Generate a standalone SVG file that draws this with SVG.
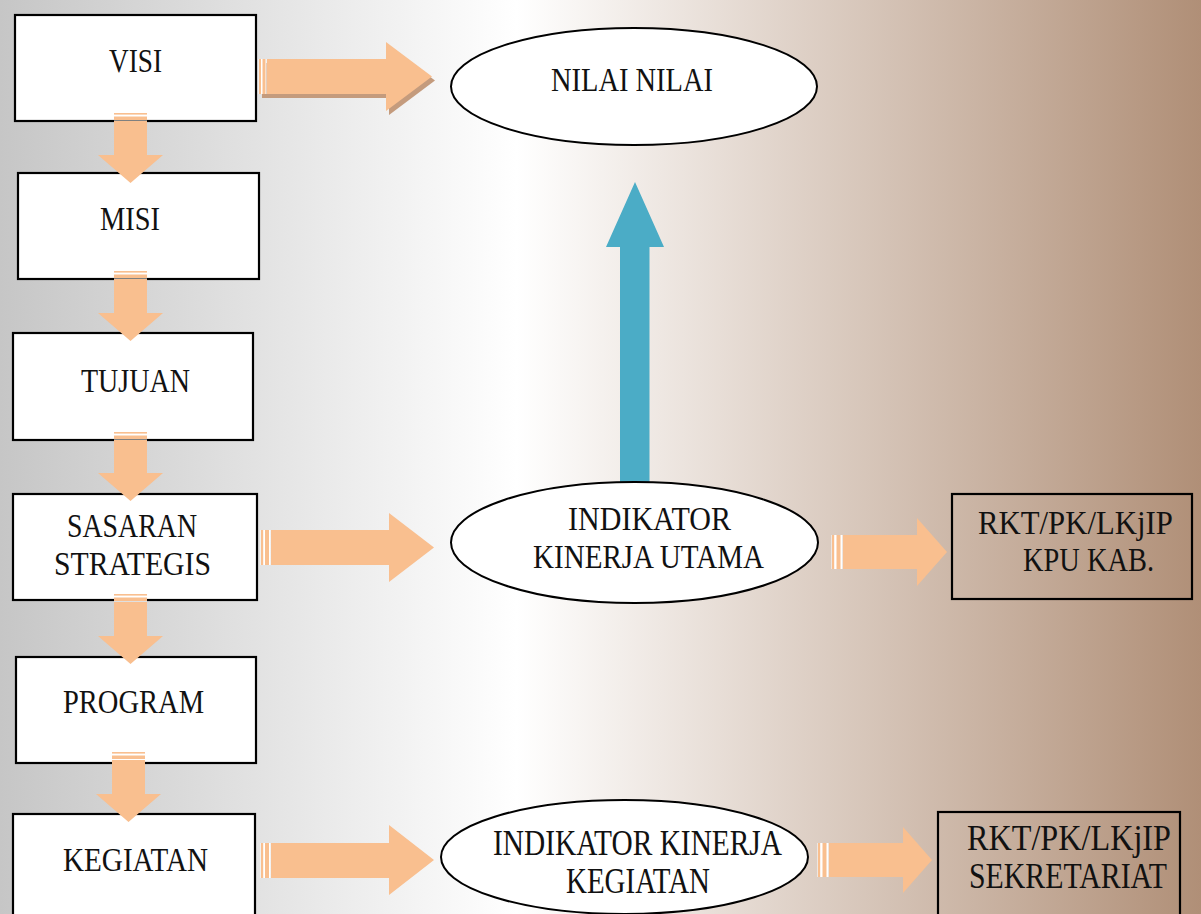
<svg xmlns="http://www.w3.org/2000/svg" width="1201" height="914" viewBox="0 0 1201 914">
<defs>
<linearGradient id="bg" x1="0" y1="0" x2="1201" y2="0" gradientUnits="userSpaceOnUse">
<stop offset="0" stop-color="#c6c6c6"/>
<stop offset="0.43" stop-color="#ffffff"/>
<stop offset="1" stop-color="#b08f77"/>
</linearGradient>
<style>
.box{fill:#ffffff;stroke:#000000;stroke-width:2.2}
.obox{fill:none;stroke:#000000;stroke-width:2.2}
.ell{fill:#ffffff;stroke:#000000;stroke-width:2}
.t{font-family:"Liberation Serif","Times New Roman",serif;font-size:33px;fill:#111111}
.tb{font-family:"Liberation Serif","Times New Roman",serif;font-size:35px;fill:#111111}
.ar{fill:#f9bf8f}
.sh{fill:#c49b7d}
.wl{fill:#ffffff}
.blue{fill:#4bacc6}
</style>
</defs>
<rect x="0" y="0" width="1201" height="914" fill="url(#bg)"/>

<g id="node-visi"><rect class="box" x="15" y="15" width="241" height="106"/><text class="t" x="109" y="72" textLength="53" lengthAdjust="spacingAndGlyphs">VISI</text></g>
<g id="node-misi"><rect class="box" x="18" y="173" width="241" height="106"/><text class="t" x="100" y="230" textLength="60" lengthAdjust="spacingAndGlyphs">MISI</text></g>
<g id="node-tujuan"><rect class="box" x="13" y="333" width="240" height="107"/><text class="t" x="81" y="392" textLength="109" lengthAdjust="spacingAndGlyphs">TUJUAN</text></g>
<g id="node-sasaran"><rect class="box" x="13" y="494" width="244" height="106"/><text class="t" x="67" y="537" textLength="130" lengthAdjust="spacingAndGlyphs">SASARAN</text><text class="t" x="54" y="575" textLength="157" lengthAdjust="spacingAndGlyphs">STRATEGIS</text></g>
<g id="node-program"><rect class="box" x="16" y="657" width="240" height="106"/><text class="t" x="63" y="713" textLength="141" lengthAdjust="spacingAndGlyphs">PROGRAM</text></g>
<g id="node-kegiatan"><rect class="box" x="13" y="814" width="242" height="110"/><text class="t" x="63" y="871" textLength="145" lengthAdjust="spacingAndGlyphs">KEGIATAN</text></g>

<g id="connectors">
<!-- blue up arrow -->
<polygon class="blue" points="635,182 664,247 649.5,247 649.5,486 620,486 620,247 606,247"/>
<!-- down arrows -->
<g>
<rect class="wl" x="114" y="112.5" width="33" height="8"/>
<rect class="ar" x="114" y="113" width="33" height="1.6"/><rect class="ar" x="114" y="116.5" width="33" height="3.5"/>
<polygon class="ar" points="114,121 147,121 147,155 163,155 130.5,183 98,155 114,155"/>
</g>
<g>
<rect class="wl" x="114" y="270.5" width="33" height="8"/>
<rect class="ar" x="114" y="271" width="33" height="1.6"/><rect class="ar" x="114" y="274.5" width="33" height="3.5"/>
<polygon class="ar" points="114,279 147,279 147,313 163,313 130.5,341 98,313 114,313"/>
</g>
<g>
<rect class="wl" x="114" y="431.5" width="33" height="8"/>
<rect class="ar" x="114" y="432" width="33" height="1.6"/><rect class="ar" x="114" y="435.5" width="33" height="3.5"/>
<polygon class="ar" points="114,440 147,440 147,473 163,473 130.5,501 98,473 114,473"/>
</g>
<g>
<rect class="wl" x="114" y="593.5" width="33" height="8"/>
<rect class="ar" x="114" y="594" width="33" height="1.6"/><rect class="ar" x="114" y="597.5" width="33" height="3.5"/>
<polygon class="ar" points="114,602 147,602 147,636 163,636 130.5,664 98,636 114,636"/>
</g>
<g>
<rect class="wl" x="112" y="751.5" width="33" height="8"/>
<rect class="ar" x="112" y="752" width="33" height="1.6"/><rect class="ar" x="112" y="755.5" width="33" height="3.5"/>
<polygon class="ar" points="112,760 145,760 145,794 161,794 128.5,822 96,794 112,794"/>
</g>
<!-- VISI -> NILAI with shadow -->
<g>
<polygon class="sh" points="262,63 389,63 389,46 435,80.5 389,115 389,98 262,98"/>
<rect class="wl" x="258.5" y="59" width="8" height="35"/>
<rect class="ar" x="259" y="59" width="2" height="35"/><rect class="ar" x="262.5" y="59" width="3" height="35"/>
<polygon class="ar" points="267,59 386,59 386,42 432,76.5 386,111 386,94 267,94"/>
</g>
<!-- SASARAN -> IKU -->
<g>
<rect class="wl" x="260.5" y="530" width="10" height="35"/>
<rect class="ar" x="261" y="530" width="2.2" height="35"/><rect class="ar" x="265" y="530" width="4" height="35"/>
<polygon class="ar" points="271,530 389,530 389,513 434,547.5 389,582 389,565 271,565"/>
</g>
<!-- KEGIATAN -> IKK -->
<g>
<rect class="wl" x="260.5" y="843" width="10" height="35"/>
<rect class="ar" x="261" y="843" width="2.2" height="35"/><rect class="ar" x="265" y="843" width="4" height="35"/>
<polygon class="ar" points="271,843 389,843 389,825 434,860 389,895 389,878 271,878"/>
</g>
<!-- IKU -> RKT KPU -->
<g>
<rect class="wl" x="831.5" y="535" width="11" height="34"/>
<rect class="ar" x="832" y="535" width="2.2" height="34"/><rect class="ar" x="836.5" y="535" width="4" height="34"/>
<polygon class="ar" points="843,535 917,535 917,518 947,552 917,586 917,569 843,569"/>
</g>
<!-- IKK -> RKT SEKRETARIAT -->
<g>
<rect class="wl" x="817.5" y="843" width="11" height="34"/>
<rect class="ar" x="818" y="843" width="2.2" height="34"/><rect class="ar" x="822.5" y="843" width="4" height="34"/>
<polygon class="ar" points="829,843 903,843 903,827 932,860 903,893 903,877 829,877"/>
</g>
</g>

<g id="node-nilai"><ellipse class="ell" cx="634" cy="86.5" rx="183" ry="58.5"/><text class="t" x="551" y="91" textLength="162" lengthAdjust="spacingAndGlyphs">NILAI NILAI</text></g>
<g id="node-iku"><ellipse class="ell" cx="634.5" cy="542.5" rx="183.5" ry="60.5"/><text class="t" x="568" y="530" textLength="163" lengthAdjust="spacingAndGlyphs">INDIKATOR</text><text class="t" x="533" y="568" textLength="231" lengthAdjust="spacingAndGlyphs">KINERJA UTAMA</text></g>
<g id="node-ikk"><ellipse class="ell" cx="624.5" cy="857" rx="183.5" ry="57"/><text class="tb" x="493" y="855" textLength="289" lengthAdjust="spacingAndGlyphs">INDIKATOR KINERJA</text><text class="tb" x="566" y="893" textLength="144" lengthAdjust="spacingAndGlyphs">KEGIATAN</text></g>
<g id="node-rkt-kpu"><rect class="obox" x="952" y="494" width="240" height="105"/><text class="t" x="978" y="534" textLength="195" lengthAdjust="spacingAndGlyphs">RKT/PK/LKjIP</text><text class="t" x="1023" y="571" textLength="131" lengthAdjust="spacingAndGlyphs">KPU KAB.</text></g>
<g id="node-rkt-sek"><rect class="obox" x="938" y="812" width="242" height="112"/><text class="tb" x="967" y="850" textLength="204" lengthAdjust="spacingAndGlyphs">RKT/PK/LKjIP</text><text class="tb" x="969" y="888" textLength="198" lengthAdjust="spacingAndGlyphs">SEKRETARIAT</text></g>
</svg>
